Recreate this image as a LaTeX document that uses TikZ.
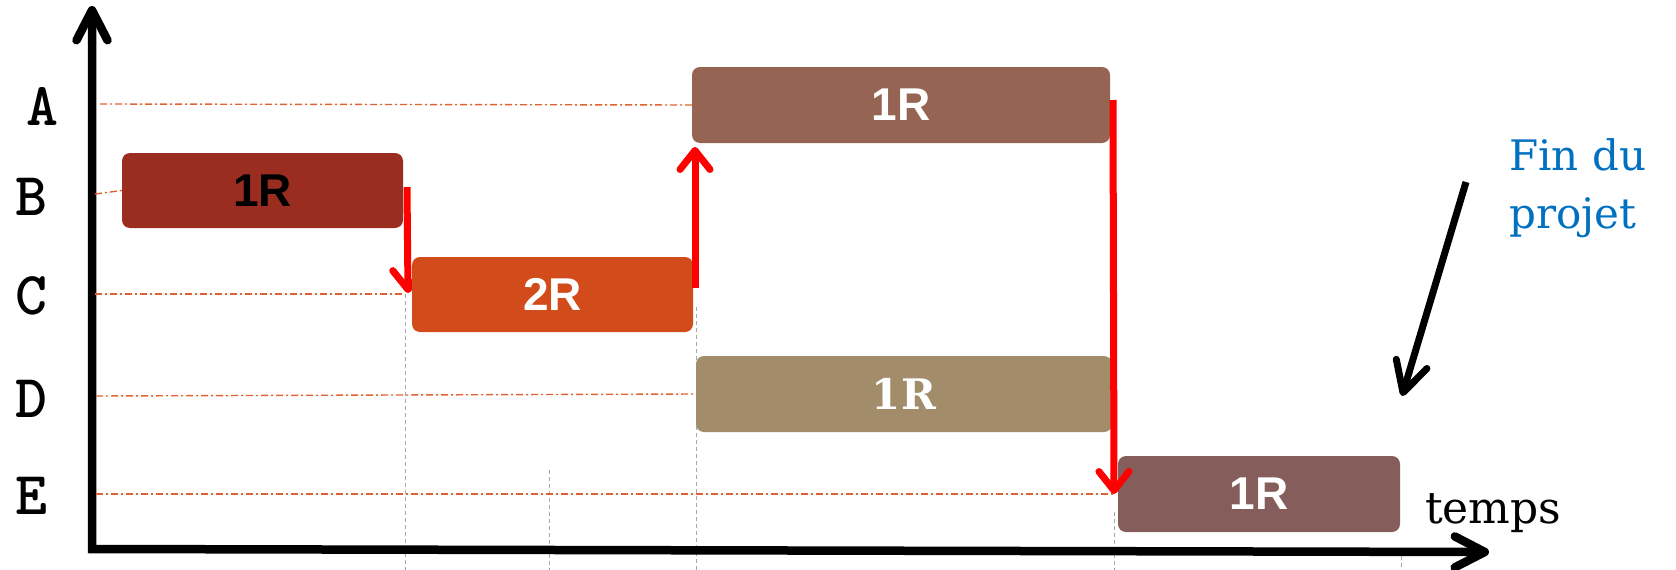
\documentclass[tikz,border=0pt]{standalone}
\usepackage{fontspec}
\setmainfont{DejaVu Serif}
\newfontfamily\sansface{Liberation Sans}
\usetikzlibrary{arrows.meta}

\definecolor{taskA}{HTML}{966452}
\definecolor{taskB}{HTML}{9B2D20}
\definecolor{taskC}{HTML}{D24B1A}
\definecolor{taskD}{HTML}{A28C6A}
\definecolor{taskE}{HTML}{855E5C}
\definecolor{guideline}{HTML}{E2622F}
\definecolor{noteblue}{HTML}{0070C0}

\begin{document}
\begin{tikzpicture}[x=1pt,y=-1pt,
  task/.style={rounded corners=8pt, inner sep=0pt, text=white,
    font=\sansface\bfseries\fontsize{46}{46}\selectfont},
  level/.style={inner sep=0pt, font=\ttfamily\bfseries\fontsize{61}{61}\selectfont},
  guide/.style={draw=guideline, line width=1.4pt,
    dash pattern=on 7pt off 3pt on 2pt off 3pt},
  tickline/.style={draw=black!35, line width=1pt, dash pattern=on 4pt off 3pt},
  axis/.style={line width=8.5pt, line join=miter},
  axistip/.tip={Straight Barb[length=30pt, width=31pt, round]},
  link/.style={draw=red, line width=7pt,
    -{Straight Barb[length=19pt, width=30pt, round]}},
  pointer/.style={draw=black, line width=7pt,
    -{Straight Barb[length=30pt, width=32pt, round]}}
]
\useasboundingbox (0,0) rectangle (1676,570);

% time ticks
\draw[tickline] (405,294) -- (405,570);
\draw[tickline] (549,470) -- (549,570);
\draw[tickline] (696,307) -- (696,570);
\draw[tickline] (1114,512) -- (1114,570);
\draw[tickline] (1401,556) -- (1401,570);

% axes
\coordinate (origin) at (92,549);
\coordinate (ytip) at (92,6);
\coordinate (xtip) at (1489,552);
\draw[axis, axistip-axistip] (ytip) -- (origin) -- (xtip);

% resource levels
\node[level] (lA) at (43,106) {A};
\node[level] (lB) at (32,197) {B};
\node[level] (lC) at (32,296) {C};
\node[level] (lD) at (32,399) {D};
\node[level] (lE) at (32,496) {E};

% tasks
\node[task, fill=taskB, text=black, minimum width=281pt, minimum height=75pt] (B) at (262.5,190.5) {1R};

% B finishes, C starts
\coordinate (bcS) at (407,187);
\coordinate (bcE) at (408,293);
\draw[link] (bcS) -- (bcE);

\node[task, fill=taskC, minimum width=281pt, minimum height=75pt] (C) at (552.5,294.5) {2R};
\node[task, fill=taskA, minimum width=418pt, minimum height=76pt] (A) at (901,105) {1R};
\node[task, fill=taskD, minimum width=416pt, minimum height=76pt,
  font=\bfseries\fontsize{42}{42}\selectfont] (D) at (904,394) {1R};
\node[task, fill=taskE, minimum width=282pt, minimum height=76pt] (E) at (1259,494) {1R};

% level guides
\coordinate (gA) at (100,104);
\coordinate (gB) at (95,194);
\coordinate (gC) at (95,294);
\coordinate (gD) at (96,396);
\coordinate (gE) at (96,494);
\coordinate (gCend) at (405,294);
\coordinate (gEend) at (1114,494);
\draw[guide] (gA) -- (A.west);
\draw[guide] (gB) -- (B.west);
\draw[guide] (gC) -- (gCend);
\draw[guide] (gD) -- (D.west);
\draw[guide] (gE) -- (gEend);

% C finishes, A starts; A finishes, E starts
\coordinate (caS) at (695,288);
\coordinate (caE) at (695,147);
\draw[link] (caS) -- (caE);
\coordinate (aeS) at (1113,100);
\coordinate (aeE) at (1114,494);
\draw[link] (aeS) -- (aeE);

% labels
\node[anchor=base west, inner sep=0pt, font=\fontsize{44}{44}\selectfont] (temps) at (1425,523) {temps};
\node[anchor=base west, inner sep=0pt, text=noteblue, font=\fontsize{42}{42}\selectfont] (fin) at (1509,170) {Fin du};
\node[anchor=base west, inner sep=0pt, text=noteblue, font=\fontsize{42}{42}\selectfont] (projet) at (1509,228) {projet};
\coordinate (finS) at (1466,182);
\coordinate (finE) at (1402,396);
\draw[pointer] (finS) -- (finE);
\end{tikzpicture}
\end{document}
